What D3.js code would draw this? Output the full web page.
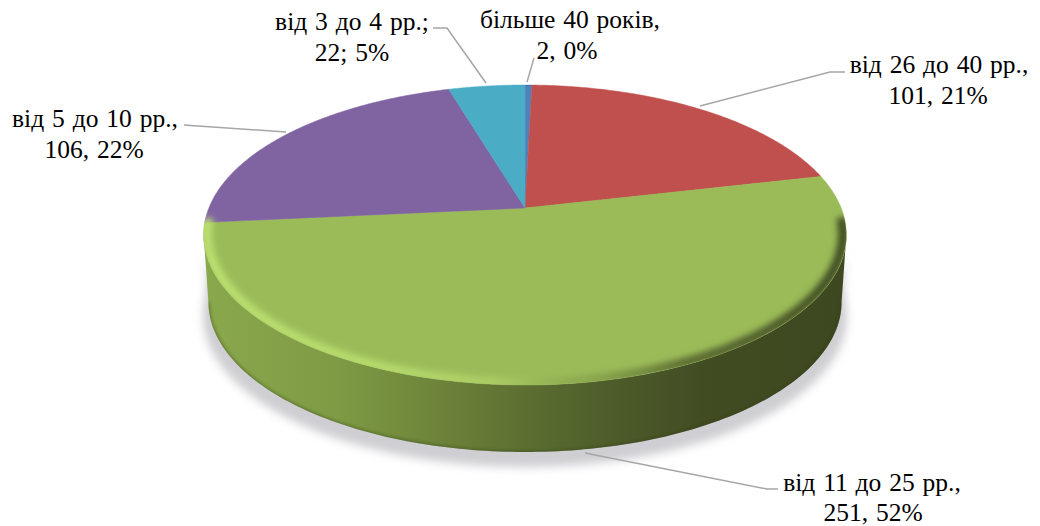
<!DOCTYPE html>
<html><head><meta charset="utf-8">
<script src="https://cdn.jsdelivr.net/npm/d3@7"></script>
<style>html,body{margin:0;background:#fff}svg{display:block}text{font-family:"Liberation Serif",serif;font-size:25.5px;word-spacing:1.5px;fill:#000}</style>
</head><body><svg id="c" width="1040" height="526"></svg>
<script>
const categories=["більше 40 років","від 26 до 40 рр.","від 11 до 25 рр.","від 5 до 10 рр.","від 3 до 4 рр."];
const values=[2,101,251,106,22];
const colors=["#4F81BD","#C0504D","#9BBB59","#8064A2","#4BACC6"];
const labelLines=[["більше 40 років,","2, 0%"],["від 26 до 40 рр.,","101, 21%"],["від 11 до 25 рр.,","251, 52%"],["від 5 до 10 рр.,","106, 22%"],["від 3 до 4 рр.;","22; 5%"]];
const labelAnchors=[[[570,28],[567,59]],[[939,73],[938,104]],[[872,491],[873,521]],[[95,127],[94,158]],[[352,30],[352,61]]];
const leaders=[[[527,82],[534,58]],[[700,106],[830,72],[845,72]],[[585,453],[767,489],[778,489]],[[286,132],[198,126],[184,125]],[[486,83],[447,28],[433,28]]];

const svg=d3.select("#c"),defs=svg.append("defs");
const CX=525,CY=208,S=313,C=-0.18,A=107.7,DEPTH=67;
// perspective projection of the unit disc
const proj=(a,dy=0,k=1,r=1)=>{const x=r*Math.sin(a),y=-r*Math.cos(a),d=1+C*y;
  return [CX+k*S*x/d,(CY+A*y)/d+dy];};
const TAU=Math.PI*2;
const line=d3.line();
const arcs=d3.pie().sort(null).value(d=>d)(values);
const samples=(a0,a1,f)=>d3.range(0,161).map(i=>f(a0+(a1-a0)*i/160));

const stops=(id,list)=>{const g=defs.append("linearGradient").attr("id",id).attr("gradientUnits","userSpaceOnUse").attr("x1",204).attr("x2",845).attr("y1",0).attr("y2",0);
  list.forEach(([o,c,p])=>g.append("stop").attr("offset",o).attr("stop-color",c).attr("stop-opacity",p===undefined?1:p));};
stops("side",[[0,"#8AA84C"],[.2,"#7F9C45"],[.39,"#6A8038"],[.5,"#5C6F31"],[.62,"#4F5E2B"],[.78,"#414C23"],[1,"#3D4820"]]);
stops("bevel",[[0,"#BCE070",1],[.3,"#B6DA6C",1],[.45,"#B0D268",.8],[.6,"#7E9A45",.6],[.75,"#4F5E2B",.85],[1,"#3F4A22",1]]);
const blur=(id,s)=>defs.append("filter").attr("id",id).attr("filterUnits","userSpaceOnUse").attr("x",0).attr("y",0).attr("width",1040).attr("height",526).append("feGaussianBlur").attr("stdDeviation",s);
blur("blur",5);blur("blur2",3);blur("blur3",1.5);

const TAN=.18; // where the rim is widest on screen
const rim=samples(0,TAU,a=>proj(a));
const wall=[...samples(Math.PI/2+TAN,3*Math.PI/2-TAN,a=>proj(a,0,1.01)),...samples(3*Math.PI/2-TAN,Math.PI/2+TAN,a=>proj(a,DEPTH,.995))];

// soft ground shadow
svg.append("path").attr("d",line(samples(0,TAU,a=>proj(a,DEPTH+15,1.01)))+"Z")
  .attr("fill","#cfcfd3").attr("filter","url(#blur)");
svg.append("path").attr("d",line(wall)+"Z").attr("fill","#cfcfd3").attr("transform","translate(0,6)").attr("filter","url(#blur)");

// side wall
defs.append("clipPath").attr("id","wallClip").append("path").attr("d",line(wall)+"Z");
svg.append("path").attr("d",line(wall)+"Z").attr("fill","url(#side)");
svg.append("g").attr("clip-path","url(#wallClip)").append("path").attr("d",line(samples(Math.PI/2+TAN,3*Math.PI/2-TAN,a=>proj(a,DEPTH,.995))))
  .attr("fill","none").attr("stroke","#2f3818").attr("stroke-opacity",.4).attr("stroke-width",3).attr("filter","url(#blur3)");

// top faces
const face=a=>{const p=proj(a);return [CX+(p[0]-CX)*1.01,p[1]];};
defs.append("clipPath").attr("id","face").append("path").attr("d",line(samples(0,TAU,face))+"Z");
svg.append("g").selectAll("path").data(arcs).join("path")
  .attr("d",d=>line([[CX,CY],...samples(d.startAngle,d.endAngle,face)])+"Z")
  .attr("fill",(d,i)=>colors[i]).attr("stroke",(d,i)=>colors[i]).attr("stroke-width",.5);

// bevel on the front edge of the green slice
const g=arcs[2];
svg.append("g").attr("clip-path","url(#face)").append("path")
  .attr("d",line(samples(g.startAngle+.3,g.endAngle+.02,a=>proj(a,-1,1.005,.995))))
  .attr("fill","none").attr("stroke","url(#bevel)").attr("stroke-width",10).attr("filter","url(#blur2)");

// leader lines
svg.append("g").selectAll("path").data(leaders).join("path").attr("d",d=>line(d))
  .attr("fill","none").attr("stroke","#A6A6A6").attr("stroke-width",1.5);

// labels
const lab=svg.append("g").selectAll("g").data(labelLines).join("g");
lab.selectAll("text").data((d,i)=>d.map((t,j)=>({t,p:labelAnchors[i][j]}))).join("text")
  .attr("x",d=>d.p[0]).attr("y",d=>d.p[1]).attr("text-anchor","middle").text(d=>d.t);
</script></body></html>
